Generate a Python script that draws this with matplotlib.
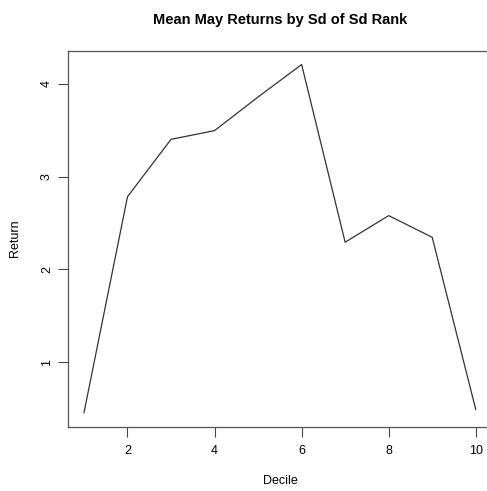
import matplotlib.pyplot as plt

plt.rcParams['font.family'] = ['Liberation Sans', 'DejaVu Sans']

deciles = [1, 2, 3, 4, 5, 6, 7, 8, 9, 10]
returns = [0.454, 2.784, 3.403, 3.497, 3.86, 4.21, 2.293, 2.58, 2.346, 0.49]
x_ticks = [2, 4, 6, 8, 10]
y_ticks = [1, 2, 3, 4]

W, H = 487, 491
fig = plt.figure(figsize=(W / 100, H / 100), dpi=100)
ax = fig.add_axes([68.3 / W, 1 - 426.6 / H, (491.4 - 68.3) / W, (426.6 - 50.6) / H])

ax.plot(deciles, returns, color='#333333', linewidth=0.9)
ax.margins(x=0.04, y=0.04)

ax.set_xticks(x_ticks)
ax.set_yticks(y_ticks)
ax.tick_params(axis='both', direction='out', length=7, width=0.8, color='#444444',
               labelsize=9)
ax.tick_params(axis='x', pad=6)
ax.tick_params(axis='y', labelrotation=90, pad=4)
for lab in ax.get_yticklabels():
    lab.set_va('center')
for s in ax.spines.values():
    s.set_color('#555555')
    s.set_linewidth(0.9)
# the box runs off the right edge of the picture
ax.spines['right'].set_visible(False)

fig.text(280 / W, 1 - 20 / H, 'Mean May Returns by Sd of Sd Rank',
         ha='center', va='center', fontsize=10.5, fontweight='bold')
fig.text(280 / W, 1 - 481 / H, 'Decile', ha='center', va='center', fontsize=9)
fig.text(15 / W, 1 - 238 / H, 'Return', ha='center', va='center', fontsize=9,
         rotation=90)

fig.savefig('out.png', dpi=100)
